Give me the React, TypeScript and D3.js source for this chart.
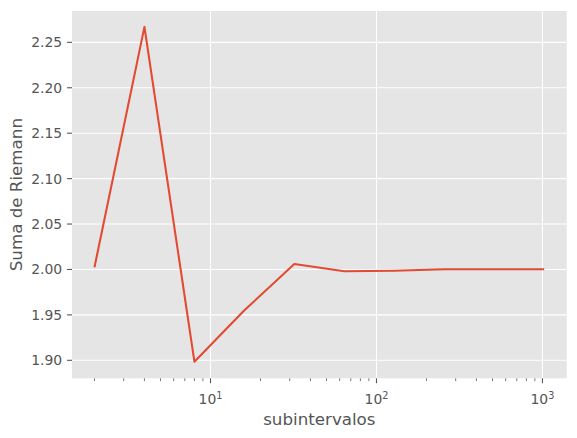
import React from "react";
import * as d3 from "d3";

const subintervals = [2, 4, 8, 16, 32, 64, 128, 256, 512, 1024];
const riemannSums = [2.0025, 2.267, 1.8985, 1.955, 2.006, 1.998, 1.9985, 2.0002, 2.0003, 2.0002];
const yTicks = [1.9, 1.95, 2.0, 2.05, 2.1, 2.15, 2.2, 2.25];
const xMajorExps = [1, 2, 3];
const xLabel = "subintervalos";
const yLabel = "Suma de Riemann";

const W = 577, H = 438;
const L = 72, R = 566.7, T = 11, B = 378.3;
const FONT = "'DejaVu Sans', sans-serif";
const TXT = "#555555";
const TICK_FS = 13.9;
const LABEL_FS = 16.7;

export default function App() {
  const x = d3.scaleLog().domain([Math.pow(10, 0.1656), Math.pow(10, 3.146)]).range([L, R]);
  const y = d3.scaleLinear().domain([1.8802, 2.2845]).range([B, T]);
  const line = d3.line<number>().x((_, i) => x(subintervals[i])).y(d => y(d));
  const minor: number[] = [];
  for (let e = 0; e <= 3; e++) for (let k = 2; k <= 9; k++) {
    const v = k * Math.pow(10, e);
    if (x(v) >= L && x(v) <= R) minor.push(v);
  }
  return (
    <svg width={W} height={H} style={{ position: "absolute", left: 0, top: 0 }}>
      <rect x={0} y={0} width={W} height={H} fill="white" />
      <rect x={L} y={T} width={R - L} height={B - T} fill="#E5E5E5" />
      {yTicks.map(t => (
        <line key={"gy" + t} x1={L} x2={R} y1={y(t)} y2={y(t)} stroke="white" strokeWidth={1.1} />
      ))}
      {xMajorExps.map(e => (
        <line key={"gx" + e} x1={x(Math.pow(10, e))} x2={x(Math.pow(10, e))} y1={T} y2={B} stroke="white" strokeWidth={1.1} />
      ))}
      <path d={line(riemannSums) || ""} fill="none" stroke="#E24A33" strokeWidth={2.08} strokeLinejoin="round" />
      {yTicks.map(t => (
        <g key={"ty" + t}>
          <line x1={L - 4.9} x2={L} y1={y(t)} y2={y(t)} stroke={TXT} strokeWidth={1.1} />
          <text x={L - 9.8} y={y(t)} dy="0.36em" textAnchor="end" style={{ fontFamily: FONT }} fontSize={TICK_FS} fill={TXT}>
            {t.toFixed(2)}
          </text>
        </g>
      ))}
      {xMajorExps.map(e => {
        const px = x(Math.pow(10, e));
        return (
          <g key={"tx" + e}>
            <line x1={px} x2={px} y1={B} y2={B + 4.9} stroke={TXT} strokeWidth={1.1} />
            <text x={px} y={404} textAnchor="middle" style={{ fontFamily: FONT }} fontSize={TICK_FS} fill={TXT}>
              10<tspan dy={-5.5} fontSize={9.7}>{e}</tspan>
            </text>
          </g>
        );
      })}
      {minor.map(v => (
        <line key={"mx" + v} x1={x(v)} x2={x(v)} y1={B} y2={B + 2.8} stroke={TXT} strokeWidth={0.8} />
      ))}
      <text x={(L + R) / 2} y={425} textAnchor="middle" style={{ fontFamily: FONT }} fontSize={LABEL_FS} fill={TXT}>{xLabel}</text>
      <text transform={`translate(21.5,${(T + B) / 2}) rotate(-90)`} textAnchor="middle" style={{ fontFamily: FONT }} fontSize={LABEL_FS} fill={TXT}>{yLabel}</text>
    </svg>
  );
}
